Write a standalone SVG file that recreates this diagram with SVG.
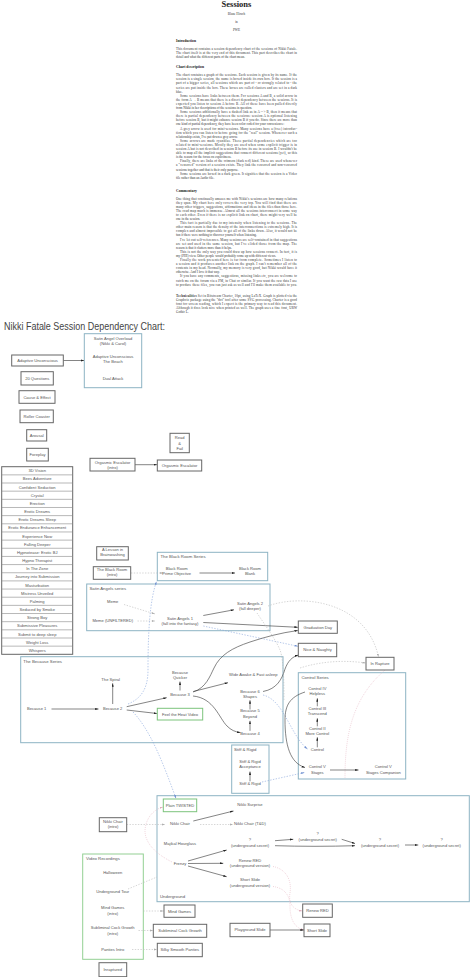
<svg xmlns="http://www.w3.org/2000/svg" width="474" height="977" viewBox="0 0 474 977">
<style>
.doc{font-family:"Liberation Serif","DejaVu Serif",serif;font-size:3.3px;fill:#333}
.h{font-family:"Liberation Serif","DejaVu Serif",serif;font-size:3.7px;font-weight:bold;fill:#222}
.t{font-family:"Liberation Sans","DejaVu Sans",sans-serif;font-size:4.1px;fill:#555;text-anchor:middle}
.tl{font-family:"Liberation Sans","DejaVu Sans",sans-serif;font-size:4.3px;fill:#555}
.n{fill:#fff;stroke:#666;stroke-width:1}
.ng{fill:#fff;stroke:#7cc47c;stroke-width:1}
.cl{fill:none;stroke:#8db3c4;stroke-width:1}
.cg{fill:none;stroke:#93d093;stroke-width:1}
.row{fill:none;stroke:#888;stroke-width:0.6}
.e{fill:none;stroke:#333;stroke-width:0.6}
.eg{fill:none;stroke:#bbb;stroke-width:0.6;stroke-dasharray:1.4 1.4}
.eb{fill:none;stroke:#86a4dc;stroke-width:0.6;stroke-dasharray:1.4 1.4}
.ep{fill:none;stroke:#e6b5c2;stroke-width:0.6;stroke-dasharray:0.9 1.1}
</style>
<defs>
<marker id="a" viewBox="0 0 10 6" refX="10" refY="3" markerWidth="3.4" markerHeight="2.1" markerUnits="userSpaceOnUse" orient="auto"><path d="M0,0 L10,3 L0,6 z" fill="#222"/></marker>
<marker id="ag" viewBox="0 0 10 6" refX="10" refY="3" markerWidth="3.4" markerHeight="2.1" markerUnits="userSpaceOnUse" orient="auto"><path d="M0,0 L10,3 L0,6 z" fill="#b0b0b0"/></marker>
<marker id="ab" viewBox="0 0 10 6" refX="10" refY="3" markerWidth="3.4" markerHeight="2.1" markerUnits="userSpaceOnUse" orient="auto"><path d="M0,0 L10,3 L0,6 z" fill="#6f8fd0"/></marker>
<marker id="ap" viewBox="0 0 10 6" refX="10" refY="3" markerWidth="3.4" markerHeight="2.1" markerUnits="userSpaceOnUse" orient="auto"><path d="M0,0 L10,3 L0,6 z" fill="#e0a8b8"/></marker>
</defs>
<rect width="474" height="977" fill="#fff"/>

<g id="document">
<text x="236.5" y="6.5" text-anchor="middle" style="font-family:'Liberation Serif',serif;font-size:8.5px;font-weight:bold;fill:#222">Sessions</text>
<text x="236.5" y="15" text-anchor="middle" class="doc">Blane Hirsch</text>
<text x="236.5" y="23" text-anchor="middle" class="doc">in</text>
<text x="236.5" y="30.5" text-anchor="middle" class="doc">PWE</text>
<text x="176" y="41.5" class="h">Introduction</text>
<text x="176" y="49.5" class="doc" textLength="121" lengthAdjust="spacing">This document contains a session dependency chart of the sessions of Nikki Fatale.</text>
<text x="176" y="53.6" class="doc" textLength="121" lengthAdjust="spacing">The chart itself is at the very end of this document. This part describes the chart in</text>
<text x="176" y="57.7" class="doc">detail and what the different parts of the chart mean.</text>
<text x="176" y="68" class="h">Chart description</text>
<text x="176" y="76.2" class="doc" textLength="121" lengthAdjust="spacing">The chart contains a graph of the sessions. Each session is given by its name. If the</text>
<text x="176" y="80.3" class="doc" textLength="121" lengthAdjust="spacing">session is a single session, the name is boxed inside its own box. If the session is a</text>
<text x="176" y="84.4" class="doc" textLength="121" lengthAdjust="spacing">part of a bigger series, all sessions which are part of - or strongly related to - the</text>
<text x="176" y="88.5" class="doc" textLength="121" lengthAdjust="spacing">series are put inside the box. These boxes are called clusters and are set in a dark</text>
<text x="176" y="92.6" class="doc">blue.</text>
<text x="180" y="96.7" class="doc" textLength="117" lengthAdjust="spacing">Some sessions have links between them. For sessions A and B, a solid arrow in</text>
<text x="176" y="100.8" class="doc" textLength="121" lengthAdjust="spacing">the form A → B means that there is a direct dependency between the sessions. It is</text>
<text x="176" y="104.9" class="doc" textLength="121" lengthAdjust="spacing">expected you listen to session A before B. All of these have been pulled directly</text>
<text x="176" y="109" class="doc">from Nikki in her descriptions of the sessions in question.</text>
<text x="180" y="113.1" class="doc" textLength="117" lengthAdjust="spacing">Some sessions additionally have a dashed link as in A --&gt; B, then it means that</text>
<text x="176" y="117.2" class="doc" textLength="121" lengthAdjust="spacing">there is partial dependency between the sessions: session A is optional listening</text>
<text x="176" y="121.3" class="doc" textLength="121" lengthAdjust="spacing">before session B, but it might enhance session B if you do. Since there are more than</text>
<text x="176" y="125.4" class="doc">one kind of partial dependency, they have been color coded for your convenience:</text>
<text x="180" y="129.5" class="doc" textLength="117" lengthAdjust="spacing">A grey arrow is used for mini-sessions. Many sessions have a (free) introduc-</text>
<text x="176" y="133.6" class="doc" textLength="121" lengthAdjust="spacing">tion which you can listen to before going for the "real" session. Whenever such a</text>
<text x="176" y="137.7" class="doc">relationship exists, I've put down a grey arrow.</text>
<text x="180" y="141.8" class="doc" textLength="117" lengthAdjust="spacing">Some arrows are made cyanblue. These partial dependencies which are too</text>
<text x="176" y="145.9" class="doc" textLength="121" lengthAdjust="spacing">related to mini-sessions. Mostly they are used when some explicit trigger is in</text>
<text x="176" y="150" class="doc" textLength="121" lengthAdjust="spacing">session A but is not described in session B before its use in session B. I wouldn't be</text>
<text x="176" y="154.1" class="doc" textLength="121" lengthAdjust="spacing">able to map all the implicit suggestions that connect different sessions (yet), so this</text>
<text x="176" y="158.2" class="doc">is the reason for the focus on explicitness.</text>
<text x="180" y="162.3" class="doc" textLength="117" lengthAdjust="spacing">Finally, there are links of the crimson (dark red) kind. These are used whenever</text>
<text x="176" y="166.4" class="doc" textLength="121" lengthAdjust="spacing">a "censored" version of a session exists. They link the censored and non-censored</text>
<text x="176" y="170.5" class="doc">sessions together and that is their only purpose.</text>
<text x="180" y="174.6" class="doc" textLength="117" lengthAdjust="spacing">Some sessions are boxed in a dark green. It signifies that the session is a Video</text>
<text x="176" y="178.7" class="doc">file rather than an Audio file.</text>
<text x="176" y="192" class="h">Commentary</text>
<text x="176" y="199.5" class="doc" textLength="121" lengthAdjust="spacing">One thing that continually amazes me with Nikki's sessions are how many relations</text>
<text x="176" y="203.6" class="doc" textLength="121" lengthAdjust="spacing">they span. My chart here only covers the very top. You will find that there are</text>
<text x="176" y="207.7" class="doc" textLength="121" lengthAdjust="spacing">many other triggers, suggestions, affirmations and ideas in the files than those here.</text>
<text x="176" y="211.8" class="doc" textLength="121" lengthAdjust="spacing">The road map much is immense. Almost all the sessions interconnect in some way</text>
<text x="176" y="215.9" class="doc" textLength="121" lengthAdjust="spacing">to each other. Even if there is no explicit link on chart, there might very well be</text>
<text x="176" y="220" class="doc">one in the session.</text>
<text x="180" y="224.1" class="doc" textLength="117" lengthAdjust="spacing">This fact is partially due to my intensity when listening to the sessions. The</text>
<text x="176" y="228.2" class="doc" textLength="121" lengthAdjust="spacing">other main reason is that the density of the interconnections is extremely high. It is</text>
<text x="176" y="232.3" class="doc" textLength="121" lengthAdjust="spacing">complex and almost impossible to get all of the links down. Also, it would not be</text>
<text x="176" y="236.4" class="doc">fun if there were nothing to discover yourself when listening.</text>
<text x="180" y="240.5" class="doc" textLength="117" lengthAdjust="spacing">I've let out self-references. Many sessions are self-contained in that suggestions</text>
<text x="176" y="244.6" class="doc" textLength="121" lengthAdjust="spacing">are set and used in the same session, but I've elided those from the map. The</text>
<text x="176" y="248.7" class="doc">reason is that it clutters more than it helps.</text>
<text x="180" y="252.8" class="doc" textLength="117" lengthAdjust="spacing">This is not the only way you could draw up how sessions connect. In fact, it is</text>
<text x="176" y="256.9" class="doc">my (PHI) view. Other people would probably come up with different views.</text>
<text x="180" y="261" class="doc" textLength="117" lengthAdjust="spacing">Finally the work presented here is far from complete. Sometimes I listen to</text>
<text x="176" y="265.1" class="doc" textLength="121" lengthAdjust="spacing">a session and it produces another link on the graph. I can't remember all of the</text>
<text x="176" y="269.2" class="doc" textLength="121" lengthAdjust="spacing">contents in my head. Normally, my memory is very good, but Nikki would have it</text>
<text x="176" y="273.3" class="doc">otherwise. And I love it that way.</text>
<text x="180" y="277.4" class="doc" textLength="117" lengthAdjust="spacing">If you have any comments, suggestions, missing links etc, you are welcome to</text>
<text x="176" y="281.5" class="doc" textLength="121" lengthAdjust="spacing">catch me on the forum via a PM, in Chat or similar. If you want the raw data I use</text>
<text x="176" y="285.6" class="doc" textLength="121" lengthAdjust="spacing">to produce these files, you can just ask as well and I'll make them available to you.</text>
<text x="176" y="297" class="doc" textLength="121" lengthAdjust="spacing"><tspan font-weight="bold">Technicalities</tspan>   Set in Bitstream Charter, 10pt, using LaTeX. Graph is plotted via the</text>
<text x="176" y="301.1" class="doc" textLength="121" lengthAdjust="spacing">Graphviz package using the "dot" tool after some SVG processing. Charter is a good</text>
<text x="176" y="305.2" class="doc" textLength="121" lengthAdjust="spacing">font for screen reading, which I expect is the primary way to read this document.</text>
<text x="176" y="309.3" class="doc" textLength="121" lengthAdjust="spacing">Although it does look nice when printed as well. The graph uses a fine font, URW</text>
<text x="176" y="313.4" class="doc">Gothic L.</text>
</g>

<text x="4" y="329.5" style="font-family:'Liberation Sans','DejaVu Sans',sans-serif;font-size:10.2px;fill:#444" textLength="161" lengthAdjust="spacingAndGlyphs">Nikki Fatale Session Dependency Chart:</text>

<g id="clusters">
<g id="c-satin-overload"><rect class="cl" x="84.3" y="333.7" width="57.4" height="54"/>
<text class="t" x="113" y="339.8">Satin Angel Overload</text><text class="t" x="113" y="344.8">(Nikki &amp; Carol)</text></g>
<g id="c-blackroom"><rect class="cl" x="157.3" y="552.3" width="110.4" height="28.4"/><text class="tl" x="160.5" y="558.2">The Black Room Series</text></g>
<g id="c-satin"><rect class="cl" x="86.7" y="584" width="183.3" height="46.7"/><text class="tl" x="89.5" y="589.8">Satin Angels series</text></g>
<g id="c-because"><rect class="cl" x="20.7" y="656.7" width="262.3" height="86"/><text class="tl" x="23.3" y="662.5">The Because Series</text></g>
<g id="c-control"><rect class="cl" x="298.3" y="672.7" width="107.4" height="106.3"/><text class="tl" x="301.5" y="678.7">Control Series</text></g>
<g id="c-stiff"><rect class="cl" x="231.7" y="745" width="37.3" height="48.3"/><text class="tl" x="234" y="751.4">Stiff &amp; Rigid</text></g>
<g id="c-underground"><rect class="cl" x="157" y="795.7" width="312.3" height="106"/><text class="tl" x="160" y="898.2">Underground</text></g>
<g id="c-video"><rect class="cg" x="82.7" y="854" width="60.6" height="105.3"/><text class="tl" x="86" y="859.8">Video Recordings</text></g>
</g>

<g id="edges">
<path class="e" marker-end="url(#a)" d="M63.3,360.5 L84,360.5"/>
<path class="e" marker-end="url(#a)" d="M135,464.7 L157,464.7"/>
<path class="eg" marker-end="url(#ag)" d="M131,573 L163.5,573"/>
<path class="e" marker-end="url(#a)" d="M199.5,573 L235,573"/>
<path class="eg" marker-end="url(#ag)" d="M124,604.5 L155,614"/>
<path class="eg" marker-end="url(#ag)" d="M137.5,621 L155,621"/>
<path class="e" marker-end="url(#a)" d="M203.3,615.5 L234,609.8"/>
<path class="e" marker-end="url(#a)" d="M203.3,622.5 L297.8,627.3"/>
<path class="eb" marker-end="url(#ab)" d="M203.3,626 L298,646.3"/>
<path class="e" marker-end="url(#a)" d="M193,692 C206,688 210,676 214,668 C220,655 232,648 250,642 C265,637 280,633 297.8,630.5"/>
<path class="e" marker-end="url(#a)" d="M263,691.5 C277,689 282,679 285,669 C288,661 292,657 298.3,655"/>
<path class="eg" marker-end="url(#ag)" d="M268,606 C300,594 366,600 378.5,657"/>
<path class="eg" marker-end="url(#ag)" d="M300,668 C322,661 345,660 365.8,663"/>
<path class="eg" d="M257,613 C265,625 276,640 280,650 C284,660 284,690 284,700"/>
<path class="ep" d="M385,670 C350,700 345,740 345,778"/>
<path class="e" marker-end="url(#a)" d="M51.5,709 L98.5,709"/>
<path class="e" marker-end="url(#a)" d="M112.7,704 L112.7,683.3"/>
<path class="e" marker-end="url(#a)" d="M126.7,706.7 L166.7,697.7"/>
<path class="e" marker-end="url(#a)" d="M126.7,710 L157,713.5"/>
<path class="e" marker-end="url(#a)" d="M180,690.5 L180,681.5"/>
<path class="e" marker-end="url(#a)" d="M193.3,691.5 L228,682.7"/>
<path class="e" marker-end="url(#a)" d="M193,696 C214,698 219,718 227,726 C231,730 235,732 240.5,732.5"/>
<path class="e" marker-end="url(#a)" d="M250,730.8 L250,720.8"/>
<path class="e" marker-end="url(#a)" d="M250,709.5 L250,700.3"/>
<path class="eb" marker-end="url(#ab)" d="M263,695 C284,700 290,735 307.5,749"/>
<path class="e" marker-end="url(#a)" d="M305,692 C290,697 285,705 285,720 C285,745 290,763 305,767.5"/>
<path class="e" marker-end="url(#a)" d="M317.3,747.3 L317.3,737.3"/>
<path class="e" marker-end="url(#a)" d="M317.3,726.3 L317.3,718.3"/>
<path class="e" marker-end="url(#a)" d="M317.3,706.3 L317.3,698.3"/>
<path class="e" marker-end="url(#a)" d="M330,770 L358.5,770"/>
<path class="e" marker-end="url(#a)" d="M250,781.3 L250,771.5"/>
<path class="eb" marker-end="url(#ab)" d="M262,782 L304.5,772.5"/>
<path class="eb" marker-end="url(#ab)" d="M133,712 C150,730 162,760 176,798.5"/>
<path class="eb" marker-end="url(#ab)" d="M128,704 C140,699 148,690 148,670 C148,630 150,600 156.5,581.5"/>
<path class="eg" marker-end="url(#ag)" d="M126.7,824.5 L165,824.5"/>
<path class="e" marker-end="url(#a)" d="M193.3,821 L233.5,811"/>
<path class="eg" marker-end="url(#ag)" d="M200,824.5 L233,824.5"/>
<path class="e" marker-end="url(#a)" d="M188,861 L226.7,850"/>
<path class="e" marker-end="url(#a)" d="M188,863.5 L223.3,863.3"/>
<path class="e" marker-end="url(#a)" d="M188,866 L226.7,876.7"/>
<path class="e" marker-end="url(#a)" d="M275,840.7 L293.3,839.3"/>
<path class="e" marker-end="url(#a)" d="M275,845.7 C300,846.5 330,846.5 355,845.7"/>
<path class="e" marker-end="url(#a)" d="M341.7,839.3 L355,843.5"/>
<path class="e" marker-end="url(#a)" d="M405,845 L418.3,845"/>
<path class="ep" marker-end="url(#ap)" d="M273,866.5 C286,869 292,880 290,893 C288,904 294,910 302.5,911"/>
<path class="ep" marker-end="url(#ap)" d="M273,886.5 C285,888 290,896 290,906 C290,920 295,928 304,930"/>
<path class="e" marker-end="url(#a)" d="M270,930 L303.8,930"/>
<path class="eg" marker-end="url(#ag)" d="M143.3,911 L163.8,911"/>
<path class="eg" marker-end="url(#ag)" d="M138.5,930.5 L153.1,930.5"/>
<path class="eg" marker-end="url(#ag)" d="M132,949.5 L157.1,949.5"/>
<path class="ep" marker-end="url(#ap)" d="M172,862 C160,856 146,846 145,832 C145,820 152,810 163,807"/>
<path class="eg" d="M128,889 L157,877"/>
</g>

<g id="nodes">
<g id="n-adaptive"><rect class="n" x="11.7" y="355" width="51.6" height="11"/><text class="t" x="37.5" y="362">Adaptive Unconscious</text></g>
<g id="n-q20"><rect class="n" x="21" y="371.7" width="32.3" height="13.3"/><text class="t" x="37.2" y="379.8">20 Questions</text></g>
<g id="n-cause"><rect class="n" x="19" y="390.7" width="36" height="12.6"/><text class="t" x="37" y="398.5">Cause &amp; Effect</text></g>
<g id="n-roller"><rect class="n" x="20" y="410" width="33.3" height="12.7"/><text class="t" x="36.7" y="417.8">Roller Coaster</text></g>
<g id="n-arousal"><rect class="n" x="26.7" y="429.7" width="20" height="11.3"/><text class="t" x="36.7" y="436.8">Arousal</text></g>
<g id="n-foreplay"><rect class="n" x="26.7" y="448.3" width="21.6" height="12.7"/><text class="t" x="37.5" y="456.1">Foreplay</text></g>
<g id="n-list">
<rect class="n" x="1.7" y="466.7" width="71" height="187.6"/>
<path class="row" d="M1.7,474.86H72.7M1.7,483.01H72.7M1.7,491.17H72.7M1.7,499.33H72.7M1.7,507.49H72.7M1.7,515.64H72.7M1.7,523.8H72.7M1.7,531.96H72.7M1.7,540.11H72.7M1.7,548.27H72.7M1.7,556.43H72.7M1.7,564.58H72.7M1.7,572.74H72.7M1.7,580.9H72.7M1.7,589.06H72.7M1.7,597.21H72.7M1.7,605.37H72.7M1.7,613.53H72.7M1.7,621.68H72.7M1.7,629.84H72.7M1.7,638H72.7M1.7,646.15H72.7"/>
<text class="t" x="37.2" y="472.2">3D Vision</text>
<text class="t" x="37.2" y="480.4">Bees Adventure</text>
<text class="t" x="37.2" y="488.5">Confident Seduction</text>
<text class="t" x="37.2" y="496.7">Crystal</text>
<text class="t" x="37.2" y="504.9">Erection</text>
<text class="t" x="37.2" y="513">Erotic Dreams</text>
<text class="t" x="37.2" y="521.2">Erotic Dreams Sleep</text>
<text class="t" x="37.2" y="529.4">Erotic Endurance Enhancement</text>
<text class="t" x="37.2" y="537.5">Experience Now</text>
<text class="t" x="37.2" y="545.7">Falling Deeper</text>
<text class="t" x="37.2" y="553.9">Hypnotease: Erotic BJ</text>
<text class="t" x="37.2" y="562">Hypno Therapist</text>
<text class="t" x="37.2" y="570.2">In The Zone</text>
<text class="t" x="37.2" y="578.4">Journey into Submission</text>
<text class="t" x="37.2" y="586.5">Masturbation</text>
<text class="t" x="37.2" y="594.7">Mistress Unveiled</text>
<text class="t" x="37.2" y="602.9">Palming</text>
<text class="t" x="37.2" y="611">Seduced by Smoke</text>
<text class="t" x="37.2" y="619.2">Strong Boy</text>
<text class="t" x="37.2" y="627.4">Submissive Pleasures</text>
<text class="t" x="37.2" y="635.5">Submit to deep sleep</text>
<text class="t" x="37.2" y="643.7">Weight Loss</text>
<text class="t" x="37.2" y="651.9">Whispers</text>
</g>
<g id="n-au-beach"><text class="t" x="113" y="358.1">Adaptive Unconscious</text><text class="t" x="113" y="363.1">The Beach</text></g>
<g id="n-dual"><text class="t" x="113" y="379.7">Dual Attack</text></g>
<g id="n-oe-intro"><rect class="n" x="90" y="458.3" width="45" height="12.7"/><text class="t" x="112.5" y="464.1">Orgasmic Escalator</text><text class="t" x="112.5" y="468.7">(intro)</text></g>
<g id="n-oe"><rect class="n" x="157.3" y="460" width="44.4" height="11"/><text class="t" x="179.5" y="467">Orgasmic Escalator</text></g>
<g id="n-readfail"><rect class="n" x="170" y="433.3" width="19.3" height="19.4"/><text class="t" x="179.7" y="439">Read</text><text class="t" x="179.7" y="444.7">&amp;</text><text class="t" x="179.7" y="449.7">Fail</text></g>
<g id="n-lesson"><rect class="n" x="96.7" y="546.7" width="31.6" height="13.3"/><text class="t" x="112.5" y="551.4">A Lesson in</text><text class="t" x="112.5" y="556.4">Brainwashing</text></g>
<g id="n-br-intro"><rect class="n" x="93.3" y="566.7" width="37.4" height="12.6"/><text class="t" x="112" y="571.4">The Black Room</text><text class="t" x="112" y="576.4">(intro)</text></g>
<g id="n-br-prime"><text class="t" x="176.7" y="569.7">Black Room</text><text class="t" x="176.7" y="575.4">Prime Objective</text></g>
<g id="n-br-blank"><text class="t" x="250" y="569.7">Black Room</text><text class="t" x="250" y="575.4">Blank</text></g>
<g id="n-meme"><text class="t" x="112.7" y="603.1">Meme</text></g>
<g id="n-meme-unf"><text class="t" x="112.7" y="622.4">Meme (UNFILTERED)</text></g>
<g id="n-sa1"><text class="t" x="180" y="619.7">Satin Angels 1</text><text class="t" x="180" y="624.7">(fall into the fantasy)</text></g>
<g id="n-sa2"><text class="t" x="250" y="604.7">Satin Angels 2</text><text class="t" x="250" y="610.4">(fall deeper)</text></g>
<g id="n-grad"><rect class="n" x="298.3" y="621" width="39" height="12.3"/><text class="t" x="317.8" y="628.6">Graduation Day</text></g>
<g id="n-nice"><rect class="n" x="298.3" y="643.3" width="38.4" height="13.4"/><text class="t" x="317.5" y="651.4">Nice &amp; Naughty</text></g>
<g id="n-rapture"><rect class="n" x="366" y="657.3" width="28" height="12.7"/><text class="t" x="380" y="665">In Rapture</text></g>
<g id="n-spiral"><text class="t" x="110.7" y="680.7">The Spiral</text></g>
<g id="n-bq"><text class="t" x="180" y="674.1">Because</text><text class="t" x="180" y="679.1">Quicker</text></g>
<g id="n-b3"><text class="t" x="180" y="695.7">Because 3</text></g>
<g id="n-b1"><text class="t" x="36.7" y="710.4">Because 1</text></g>
<g id="n-b2"><text class="t" x="112.7" y="710.4">Because 2</text></g>
<g id="n-feel"><rect class="ng" x="157.3" y="708.3" width="45.4" height="11.7"/><text class="t" x="180" y="715.5">Feel the Heat Video</text></g>
<g id="n-wide"><text class="t" x="253.3" y="676.4">Wide Awake &amp; Fast asleep</text></g>
<g id="n-b6"><text class="t" x="250" y="693.1">Because 6</text><text class="t" x="250" y="698.1">Shapes</text></g>
<g id="n-b5"><text class="t" x="250" y="712.4">Because 5</text><text class="t" x="250" y="718.1">Beyond</text></g>
<g id="n-b4"><text class="t" x="250" y="734.7">Because 4</text></g>
<g id="n-c4"><text class="t" x="317.3" y="689.7">Control IV</text><text class="t" x="317.3" y="695.4">Helpless</text></g>
<g id="n-c3"><text class="t" x="317.3" y="709.7">Control III</text><text class="t" x="317.3" y="715.4">Transcend</text></g>
<g id="n-c2"><text class="t" x="317.3" y="729.7">Control II</text><text class="t" x="317.3" y="734.7">More Control</text></g>
<g id="n-c1"><text class="t" x="317.3" y="751.4">Control</text></g>
<g id="n-c5"><text class="t" x="317.3" y="768.1">Control V</text><text class="t" x="317.3" y="773.7">Stages</text></g>
<g id="n-c5c"><text class="t" x="383.3" y="768.1">Control V</text><text class="t" x="383.3" y="773.7">Stages Companion</text></g>
<g id="n-sra"><text class="t" x="250" y="763.1">Stiff &amp; Rigid</text><text class="t" x="250" y="768.1">Acceptance</text></g>
<g id="n-sr"><text class="t" x="250" y="785.4">Stiff &amp; Rigid</text></g>
<g id="n-plain"><rect class="ng" x="163.3" y="799" width="33.4" height="12.7"/><text class="t" x="180" y="806.8">Plain TWISTED</text></g>
<g id="n-chair-intro"><rect class="n" x="99.3" y="817.7" width="27.4" height="14"/><text class="t" x="113" y="823.1">Nikki Chair</text><text class="t" x="113" y="828.1">(intro)</text></g>
<g id="n-chair"><text class="t" x="180" y="824.7">Nikki Chair</text></g>
<g id="n-surprise"><text class="t" x="250" y="805.7">Nikki Surprise</text></g>
<g id="n-chair-td"><text class="t" x="250" y="824.7">Nikki Chair (T&amp;D)</text></g>
<g id="n-hourglass"><text class="t" x="180" y="844.7">Majikal Hourglass</text></g>
<g id="n-frenzy"><text class="t" x="180" y="864.7">Frenzy</text></g>
<g id="n-us1"><text class="t" x="250" y="841.4">?</text><text class="t" x="250" y="847.1">(underground secret)</text></g>
<g id="n-renew-u"><text class="t" x="250" y="862.1">Renew RED</text><text class="t" x="250" y="867.4">(underground version)</text></g>
<g id="n-short-u"><text class="t" x="250" y="881.4">Short Slide</text><text class="t" x="250" y="887.1">(underground version)</text></g>
<g id="n-us2"><text class="t" x="317.7" y="834.7">?</text><text class="t" x="317.7" y="840.7">(underground secret)</text></g>
<g id="n-us3"><text class="t" x="380" y="841.4">?</text><text class="t" x="380" y="847.1">(underground secret)</text></g>
<g id="n-us4"><text class="t" x="441.7" y="841.4">?</text><text class="t" x="441.7" y="847.1">(underground secret)</text></g>
<g id="n-renew"><rect class="n" x="302.7" y="904" width="29.6" height="13.3"/><text class="t" x="317.5" y="912">Renew RED</text></g>
<g id="n-short"><rect class="n" x="304" y="924" width="26" height="12.7"/><text class="t" x="317" y="931.7">Short Slide</text></g>
<g id="n-playground"><rect class="n" x="230" y="923.3" width="40" height="13.4"/><text class="t" x="250" y="931.4">Playground Slide</text></g>
<g id="n-halloween"><text class="t" x="112.7" y="873.7">Halloween</text></g>
<g id="n-ugtour"><text class="t" x="112.7" y="892.7">Underground Tour</text></g>
<g id="n-mg-intro"><text class="t" x="112.7" y="909.1">Mind Games</text><text class="t" x="112.7" y="914.7">(intro)</text></g>
<g id="n-scg-intro"><text class="t" x="112.7" y="929.1">Subliminal Cock Growth</text><text class="t" x="112.7" y="934.7">(intro)</text></g>
<g id="n-panties-intro"><text class="t" x="112.7" y="950.7">Panties Intro</text></g>
<g id="n-mg"><rect class="n" x="164" y="905" width="31" height="12.3"/><text class="t" x="179.5" y="912.6">Mind Games</text></g>
<g id="n-scg"><rect class="n" x="153.3" y="924.3" width="53.4" height="13"/><text class="t" x="180" y="932.2">Subliminal Cock Growth</text></g>
<g id="n-silky"><rect class="n" x="157.3" y="943.3" width="45" height="13.4"/><text class="t" x="179.8" y="951.4">Silky Smooth Panties</text></g>
<g id="n-inraptured"><rect class="n" x="99" y="962.7" width="27.7" height="14"/><text class="t" x="112.8" y="971.1">Inraptured</text></g>
</g>
</svg>
